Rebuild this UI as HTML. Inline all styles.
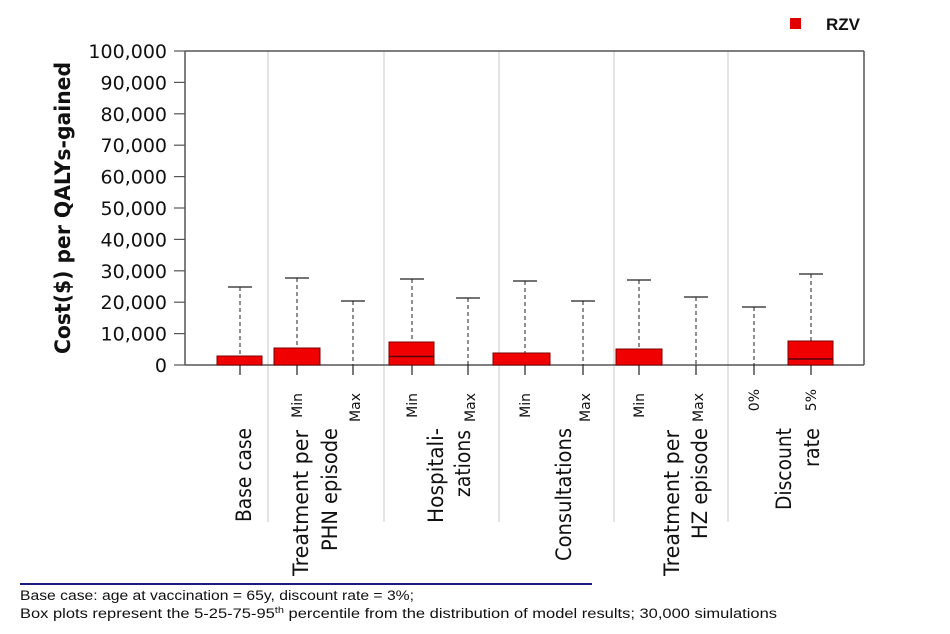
<!DOCTYPE html>
<html><head><meta charset="utf-8"><style>
html,body{margin:0;padding:0;background:#fff;width:950px;height:634px;overflow:hidden}
svg{display:block}
</style></head><body>
<svg width="950" height="634" viewBox="0 0 950 634" xmlns="http://www.w3.org/2000/svg" font-family="DejaVu Sans, Liberation Sans, sans-serif">
<g stroke="#c8c8c8" stroke-width="1">
<line x1="268" y1="51" x2="268" y2="522"/>
<line x1="384" y1="51" x2="384" y2="522"/>
<line x1="499" y1="51" x2="499" y2="522"/>
<line x1="614" y1="51" x2="614" y2="522"/>
<line x1="728" y1="51" x2="728" y2="522"/>
</g>
<g stroke="#555" stroke-width="1.5" fill="none">
<line x1="185" y1="51" x2="864" y2="51"/>
<line x1="864" y1="51" x2="864" y2="365"/>
<line x1="185" y1="51" x2="185" y2="365"/>
<line x1="185" y1="365" x2="864" y2="365"/>
</g>
<g stroke="#555" stroke-width="1.2">
<line x1="174" y1="51" x2="185" y2="51"/><line x1="174" y1="82.4" x2="185" y2="82.4"/><line x1="174" y1="113.8" x2="185" y2="113.8"/><line x1="174" y1="145.2" x2="185" y2="145.2"/><line x1="174" y1="176.6" x2="185" y2="176.6"/><line x1="174" y1="208" x2="185" y2="208"/><line x1="174" y1="239.4" x2="185" y2="239.4"/><line x1="174" y1="270.8" x2="185" y2="270.8"/><line x1="174" y1="302.2" x2="185" y2="302.2"/><line x1="174" y1="333.6" x2="185" y2="333.6"/><line x1="174" y1="365" x2="185" y2="365"/>
</g>
<g font-size="19" fill="#111" text-anchor="end">
<text x="167" y="58">100,000</text><text x="167" y="89.4">90,000</text><text x="167" y="120.8">80,000</text><text x="167" y="152.2">70,000</text><text x="167" y="183.6">60,000</text><text x="167" y="215">50,000</text><text x="167" y="246.4">40,000</text><text x="167" y="277.8">30,000</text><text x="167" y="309.2">20,000</text><text x="167" y="340.6">10,000</text><text x="167" y="372">0</text>
</g>
<text transform="translate(70,208) rotate(-90)" text-anchor="middle" font-size="21" font-weight="bold" fill="#111" textLength="292" lengthAdjust="spacingAndGlyphs">Cost($) per QALYs-gained</text>
<g stroke="#222" stroke-width="1" stroke-dasharray="4,3">
<line x1="240" y1="287" x2="240" y2="365"/>
<line x1="297" y1="278" x2="297" y2="365"/>
<line x1="353" y1="301" x2="353" y2="365"/>
<line x1="412" y1="279" x2="412" y2="365"/>
<line x1="468" y1="298" x2="468" y2="365"/>
<line x1="525" y1="281" x2="525" y2="365"/>
<line x1="583" y1="301" x2="583" y2="365"/>
<line x1="639" y1="280" x2="639" y2="365"/>
<line x1="696" y1="297" x2="696" y2="365"/>
<line x1="754" y1="307" x2="754" y2="365"/>
<line x1="811" y1="274" x2="811" y2="365"/>
</g>
<g stroke="#222" stroke-width="1.2">
<line x1="228" y1="287" x2="252" y2="287"/>
<line x1="285" y1="278" x2="309" y2="278"/>
<line x1="341" y1="301" x2="365" y2="301"/>
<line x1="400" y1="279" x2="424" y2="279"/>
<line x1="456" y1="298" x2="480" y2="298"/>
<line x1="513" y1="281" x2="537" y2="281"/>
<line x1="571" y1="301" x2="595" y2="301"/>
<line x1="627" y1="280" x2="651" y2="280"/>
<line x1="684" y1="297" x2="708" y2="297"/>
<line x1="742" y1="307" x2="766" y2="307"/>
<line x1="799" y1="274" x2="823" y2="274"/>
<line x1="240" y1="365" x2="240" y2="375"/><line x1="297" y1="365" x2="297" y2="375"/><line x1="353" y1="365" x2="353" y2="375"/><line x1="412" y1="365" x2="412" y2="375"/><line x1="468" y1="365" x2="468" y2="375"/><line x1="525" y1="365" x2="525" y2="375"/><line x1="583" y1="365" x2="583" y2="375"/><line x1="639" y1="365" x2="639" y2="375"/><line x1="696" y1="365" x2="696" y2="375"/><line x1="754" y1="365" x2="754" y2="375"/><line x1="811" y1="365" x2="811" y2="375"/>
</g>
<g fill="#f00000" stroke="#7a0000" stroke-width="1">
<rect x="217" y="356" width="45" height="9"/>
<rect x="274" y="348" width="46" height="17"/>
<rect x="389" y="342" width="45" height="23"/>
<rect x="493" y="353" width="57" height="12"/>
<rect x="616" y="349" width="46" height="16"/>
<rect x="788" y="341" width="45" height="24"/>
</g>
<g stroke="#5a0000" stroke-width="1.5">
<line x1="389" y1="356.5" x2="434" y2="356.5"/>
<line x1="788" y1="359" x2="833" y2="359"/>
</g>
<g font-size="14" fill="#111" text-anchor="end">
<text transform="translate(302,393) rotate(-90)">Min</text>
<text transform="translate(360,393) rotate(-90)">Max</text>
<text transform="translate(417,393) rotate(-90)">Min</text>
<text transform="translate(475,393) rotate(-90)">Max</text>
<text transform="translate(530,393) rotate(-90)">Min</text>
<text transform="translate(590,393) rotate(-90)">Max</text>
<text transform="translate(644,393) rotate(-90)">Min</text>
<text transform="translate(703,393) rotate(-90)">Max</text>
<text transform="translate(759,389) rotate(-90)">0%</text>
<text transform="translate(816,389) rotate(-90)">5%</text>
</g>
<g font-size="21" fill="#111" text-anchor="end">
<text transform="translate(251,428) rotate(-90)" textLength="94" lengthAdjust="spacingAndGlyphs">Base case</text>
<text transform="translate(308,430) rotate(-90)" textLength="146" lengthAdjust="spacingAndGlyphs">Treatment per</text>
<text transform="translate(337,428) rotate(-90)" textLength="123" lengthAdjust="spacingAndGlyphs">PHN episode</text>
<text transform="translate(443,428) rotate(-90)" textLength="95" lengthAdjust="spacingAndGlyphs">Hospitali-</text>
<text transform="translate(470,430) rotate(-90)" textLength="67" lengthAdjust="spacingAndGlyphs">zations</text>
<text transform="translate(571,428) rotate(-90)" textLength="133" lengthAdjust="spacingAndGlyphs">Consultations</text>
<text transform="translate(679,430) rotate(-90)" textLength="146" lengthAdjust="spacingAndGlyphs">Treatment per</text>
<text transform="translate(707,428) rotate(-90)" textLength="111" lengthAdjust="spacingAndGlyphs">HZ episode</text>
<text transform="translate(791,428) rotate(-90)" textLength="82" lengthAdjust="spacingAndGlyphs">Discount</text>
<text transform="translate(819,428) rotate(-90)" textLength="39" lengthAdjust="spacingAndGlyphs">rate</text>
</g>
<rect x="790" y="18" width="11" height="11" fill="#e00000"/>
<text x="826" y="30" font-family="Liberation Sans, sans-serif" font-weight="bold" font-size="17" fill="#111">RZV</text>
<line x1="20" y1="584" x2="592" y2="584" stroke="#1a1a80" stroke-width="2"/>
<g font-family="Liberation Sans, sans-serif" font-size="13.5" fill="#111">
<text x="20" y="600" textLength="394" lengthAdjust="spacingAndGlyphs">Base case: age at vaccination = 65y, discount rate = 3%;</text>
<text x="20" y="618" textLength="757" lengthAdjust="spacingAndGlyphs">Box plots represent the 5-25-75-95<tspan font-size="9" dy="-5">th</tspan><tspan dy="5">  percentile from the distribution of model results; 30,000 simulations</tspan></text>
</g>
</svg>
</body></html>
